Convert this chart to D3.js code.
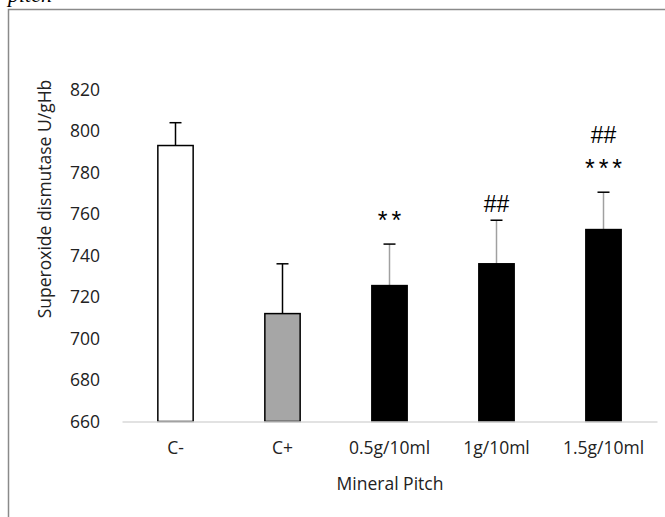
<!DOCTYPE html>
<html><head><meta charset="utf-8">
<script src="https://cdn.jsdelivr.net/npm/d3@7"></script>
<style>body{margin:0;background:#fff}svg{display:block}</style>
</head><body><svg id="c" width="665" height="517"></svg>
<script>
const categories = ["C-", "C+", "0.5g/10ml", "1g/10ml", "1.5g/10ml"];
const values = [793, 712, 725.5, 736, 752.5];
const errors = [11, 24, 20, 21, 18];
const fills = ["#ffffff", "#a6a6a6", "#000000", "#000000", "#000000"];
const annotations = [[], [], ["**"], ["##"], ["***", "##"]];
const yTicks = [660, 680, 700, 720, 740, 760, 780, 800, 820];

const svg = d3.select("#c");
const font = "'Open Sans', sans-serif";
const fs = 17.5;

// frame and cropped caption
svg.append("path").attr("d", "M8.5,517 V9.5 H665").attr("fill", "none").attr("stroke", "#8a8a8a").attr("stroke-width", 1.5);
svg.append("text").attr("x", 8).attr("y", 2).attr("font-family", "'Liberation Serif', serif")
  .attr("font-style", "italic").attr("font-size", 22).attr("fill", "#000").text("pitch");

const x = d3.scaleBand().domain(categories).range([122, 657]).paddingInner(0.67).paddingOuter(0.335);
const y = d3.scaleLinear().domain([660, 820]).range([421.5, 89.5]);

// y axis labels
const ya = svg.append("g").attr("transform", "translate(122,0)")
  .call(d3.axisLeft(y).tickValues(yTicks).tickSize(0).tickPadding(22));
ya.select(".domain").remove();
ya.selectAll("text").attr("font-family", font).attr("font-size", fs).attr("fill", "#222");

// bars
const bars = svg.append("g");
categories.forEach((c, i) => {
  const cx = x(c) + x.bandwidth() / 2;
  const top = y(values[i] + errors[i]);
  bars.append("line").attr("x1", cx).attr("x2", cx).attr("y1", y(values[i])).attr("y2", top)
    .attr("stroke", i >= 2 ? "#a0a0a0" : "#000").attr("stroke-width", 1.5);
  bars.append("line").attr("x1", cx - 6).attr("x2", cx + 6).attr("y1", top).attr("y2", top)
    .attr("stroke", "#000").attr("stroke-width", 1.5);
  bars.append("rect").attr("x", x(c)).attr("y", y(values[i])).attr("width", x.bandwidth())
    .attr("height", y(660) - y(values[i])).attr("fill", fills[i]).attr("stroke", "#000").attr("stroke-width", 1.5);
  annotations[i].forEach((t, k) => {
    const star = t[0] === "*";
    bars.append("text").attr("x", cx + (star ? 2 : 0)).attr("y", top - (star ? 15 : 8) - k * 41)
      .attr("text-anchor", "middle").attr("font-family", "'Liberation Sans', sans-serif")
      .attr("font-size", star ? 25 : 23).attr("letter-spacing", star ? 4 : 0).attr("fill", "#000").text(t);
  });
});

// x axis
const xa = svg.append("g").attr("transform", "translate(0,421.5)")
  .call(d3.axisBottom(x).tickSize(0).tickPadding(20));
xa.select(".domain").attr("stroke", "#d9d9d9").attr("stroke-width", 1.5);
xa.selectAll("text").attr("font-family", font).attr("font-size", fs).attr("fill", "#222");

svg.append("text").attr("x", 390).attr("y", 490).attr("text-anchor", "middle")
  .attr("font-family", font).attr("font-size", fs).attr("fill", "#222").text("Mineral Pitch");
svg.append("text").attr("transform", "translate(51,199) rotate(-90)").attr("text-anchor", "middle")
  .attr("font-family", font).attr("font-size", fs).attr("fill", "#222").text("Superoxide dismutase U/gHb");
</script></body></html>
